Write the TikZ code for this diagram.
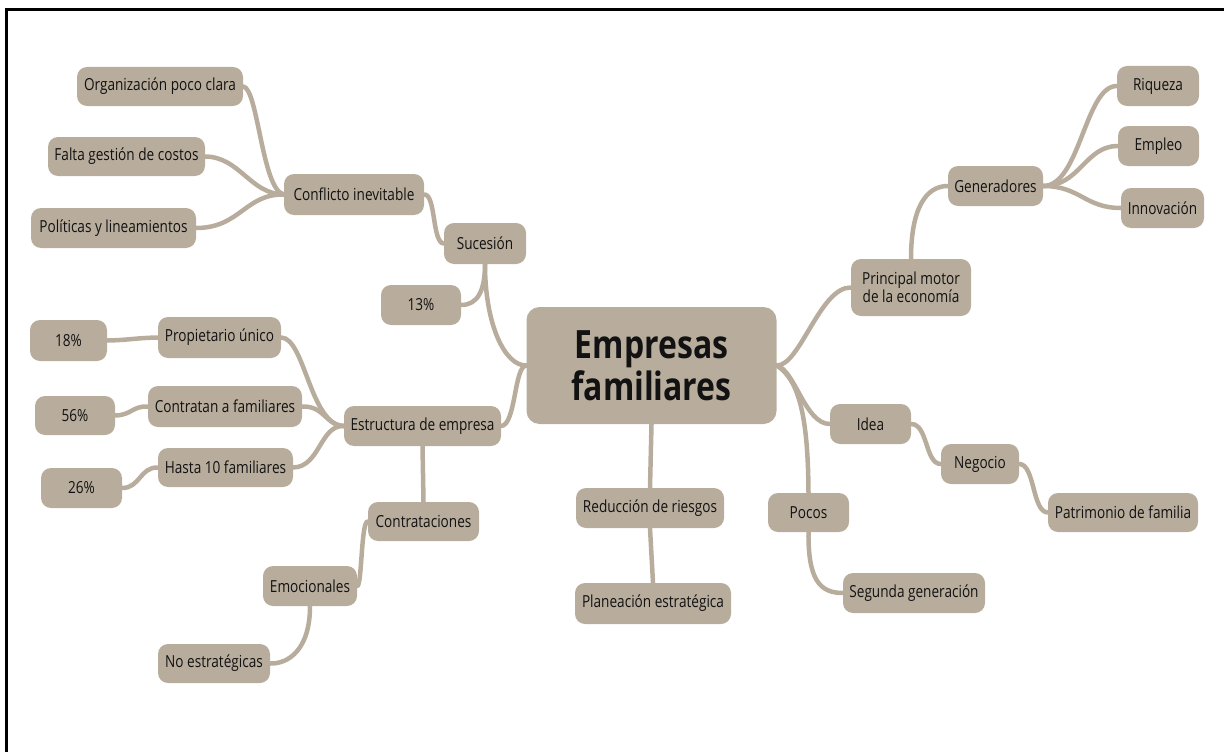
\documentclass[tikz,border=0pt]{standalone}
\usepackage{fontspec}
\setmainfont[FakeStretch=0.82]{Open Sans}
\usetikzlibrary{backgrounds}
\definecolor{boxtan}{RGB}{184,173,157}
\definecolor{inkdark}{RGB}{18,18,18}
\tikzset{
  box/.style={fill=boxtan, rounded corners=10pt, inner sep=0pt, text=inkdark,
    font=\fontsize{16.6}{18}\selectfont, align=center},
  mainbox/.style={box, rounded corners=13pt, font=\fontsize{39}{42}\selectfont\bfseries},
  link/.style={draw=boxtan, line width=4.5pt, line cap=round}
}
\begin{document}
\begin{tikzpicture}[x=1pt,y=-1pt]
\useasboundingbox (0,0) rectangle (1224,752);
\draw[line width=3pt] (6.5,752) -- (6.5,10) -- (1224,10);

% left upper branch
\node[box, minimum width=166pt, minimum height=39pt] (org) at (160,86.5) {Organización poco clara};
\node[box, minimum width=157pt, minimum height=39pt] (falta) at (126.5,156.5) {Falta gestión de costos};
\node[box, minimum width=165pt, minimum height=40pt] (pol) at (113.5,228) {Políticas y lineamientos};
\node[box, minimum width=140pt, minimum height=41pt] (conf) at (354,194.5) {Conflicto inevitable};
\node[box, minimum width=82pt, minimum height=41pt] (suc) at (485,243.5) {Sucesión};
\node[box, minimum width=80pt, minimum height=40pt] (p13) at (421,305) {13\%};

% left lower branch
\node[box, minimum width=77pt, minimum height=41pt] (p18) at (68.5,340.5) {18\%};
\node[box, minimum width=123pt, minimum height=41pt] (prop) at (219.5,337.5) {Propietario único};
\node[box, minimum width=80pt, minimum height=39pt] (p56) at (75,415.5) {56\%};
\node[box, minimum width=154pt, minimum height=41pt] (contr) at (225,406.5) {Contratan a familiares};
\node[box, minimum width=157pt, minimum height=40pt] (estr) at (422.5,426) {Estructura de empresa};
\node[box, minimum width=135pt, minimum height=39pt] (hasta) at (225.5,467.5) {Hasta 10 familiares};
\node[box, minimum width=81pt, minimum height=40pt] (p26) at (81.5,488) {26\%};
\node[box, minimum width=111pt, minimum height=39pt] (contrat) at (423.5,521.5) {Contrataciones};
\node[box, minimum width=94pt, minimum height=40pt] (emoc) at (310,586) {Emocionales};
\node[box, minimum width=112pt, minimum height=39pt] (noest) at (214,663.5) {No estratégicas};

% centre
\node[mainbox, minimum width=250pt, minimum height=117pt] (main) at (651.5,365.5) {Empresas\\familiares};
\node[box, minimum width=148pt, minimum height=40pt] (red) at (650,508) {Reducción de riesgos};
\node[box, minimum width=156pt, minimum height=41pt] (plan) at (653,603.5) {Planeación estratégica};

% right
\node[box, minimum width=81pt, minimum height=39pt] (pocos) at (808.5,512.5) {Pocos};
\node[box, minimum width=142pt, minimum height=40pt] (seg) at (914,593) {Segunda generación};
\node[box, minimum width=81pt, minimum height=40pt] (idea) at (870.5,424) {Idea};
\node[box, minimum width=78pt, minimum height=40pt] (neg) at (980,464) {Negocio};
\node[box, minimum width=150pt, minimum height=39pt] (patr) at (1123,512.5) {Patrimonio de familia};
\node[box, minimum width=120pt, minimum height=57pt] (princ) at (911,287.5) {Principal motor\\de la economía};
\node[box, minimum width=95pt, minimum height=40pt] (gen) at (995.5,186) {Generadores};
\node[box, minimum width=82pt, minimum height=40pt] (riq) at (1158,86) {Riqueza};
\node[box, minimum width=81pt, minimum height=40pt] (emp) at (1158.5,146) {Empleo};
\node[box, minimum width=83pt, minimum height=40pt] (innov) at (1162.5,208) {Innovación};

\begin{scope}[on background layer]
\draw[link] (org.east) .. controls (258,88) and (262,190) .. (conf.west);
\draw[link] (falta.east) .. controls (240,157) and (250,194) .. (conf.west);
\draw[link] (pol.east) .. controls (240,228) and (245,194) .. (conf.west);
\draw[link] (conf.east) .. controls (436,194) and (432,243) .. (suc.west);
\draw[link] (suc.south) .. controls (485,325) and (505,366) .. (main.west);
\draw[link] (p13.east) .. controls (478,305) and (485,290) .. (suc.south);

\draw[link] (estr.east) .. controls (516,425) and (514,366) .. (main.west);
\draw[link] (prop.east) .. controls (305,338) and (310,425) .. (estr.west);
\draw[link] (contr.east) .. controls (325,406) and (325,425) .. (estr.west);
\draw[link] (hasta.east) .. controls (320,467) and (320,425) .. (estr.west);
\draw[link] (p18.east) .. controls (130,340) and (135,338) .. (prop.west);
\draw[link] (p56.east) .. controls (132,415) and (132,406) .. (contr.west);
\draw[link] (p26.east) .. controls (140,488) and (140,467) .. (hasta.west);
\draw[link] (estr.south) -- (contrat.north);
\draw[link] (contrat.west) .. controls (361,521) and (362,586) .. (emoc.east);
\draw[link] (emoc.south) .. controls (310,650) and (288,664) .. (noest.east);

\draw[link] (main.south) -- (red.north);
\draw[link] (red.south) -- (plan.north);

\draw[link] (main.east) .. controls (800,366) and (820,287) .. (princ.west);
\draw[link] (princ.north) .. controls (911,210) and (925,186) .. (gen.west);
\draw[link] (gen.east) .. controls (1080,186) and (1085,86) .. (riq.west);
\draw[link] (gen.east) .. controls (1080,186) and (1085,146) .. (emp.west);
\draw[link] (gen.east) .. controls (1080,186) and (1085,208) .. (innov.west);
\draw[link] (main.east) .. controls (795,370) and (805,424) .. (idea.west);
\draw[link] (main.east) .. controls (800,380) and (808,420) .. (pocos.north);
\draw[link] (idea.east) .. controls (928,424) and (925,464) .. (neg.west);
\draw[link] (neg.east) .. controls (1035,464) and (1032,512) .. (patr.west);
\draw[link] (pocos.south) .. controls (808,580) and (820,593) .. (seg.west);
\end{scope}
\end{tikzpicture}
\end{document}
